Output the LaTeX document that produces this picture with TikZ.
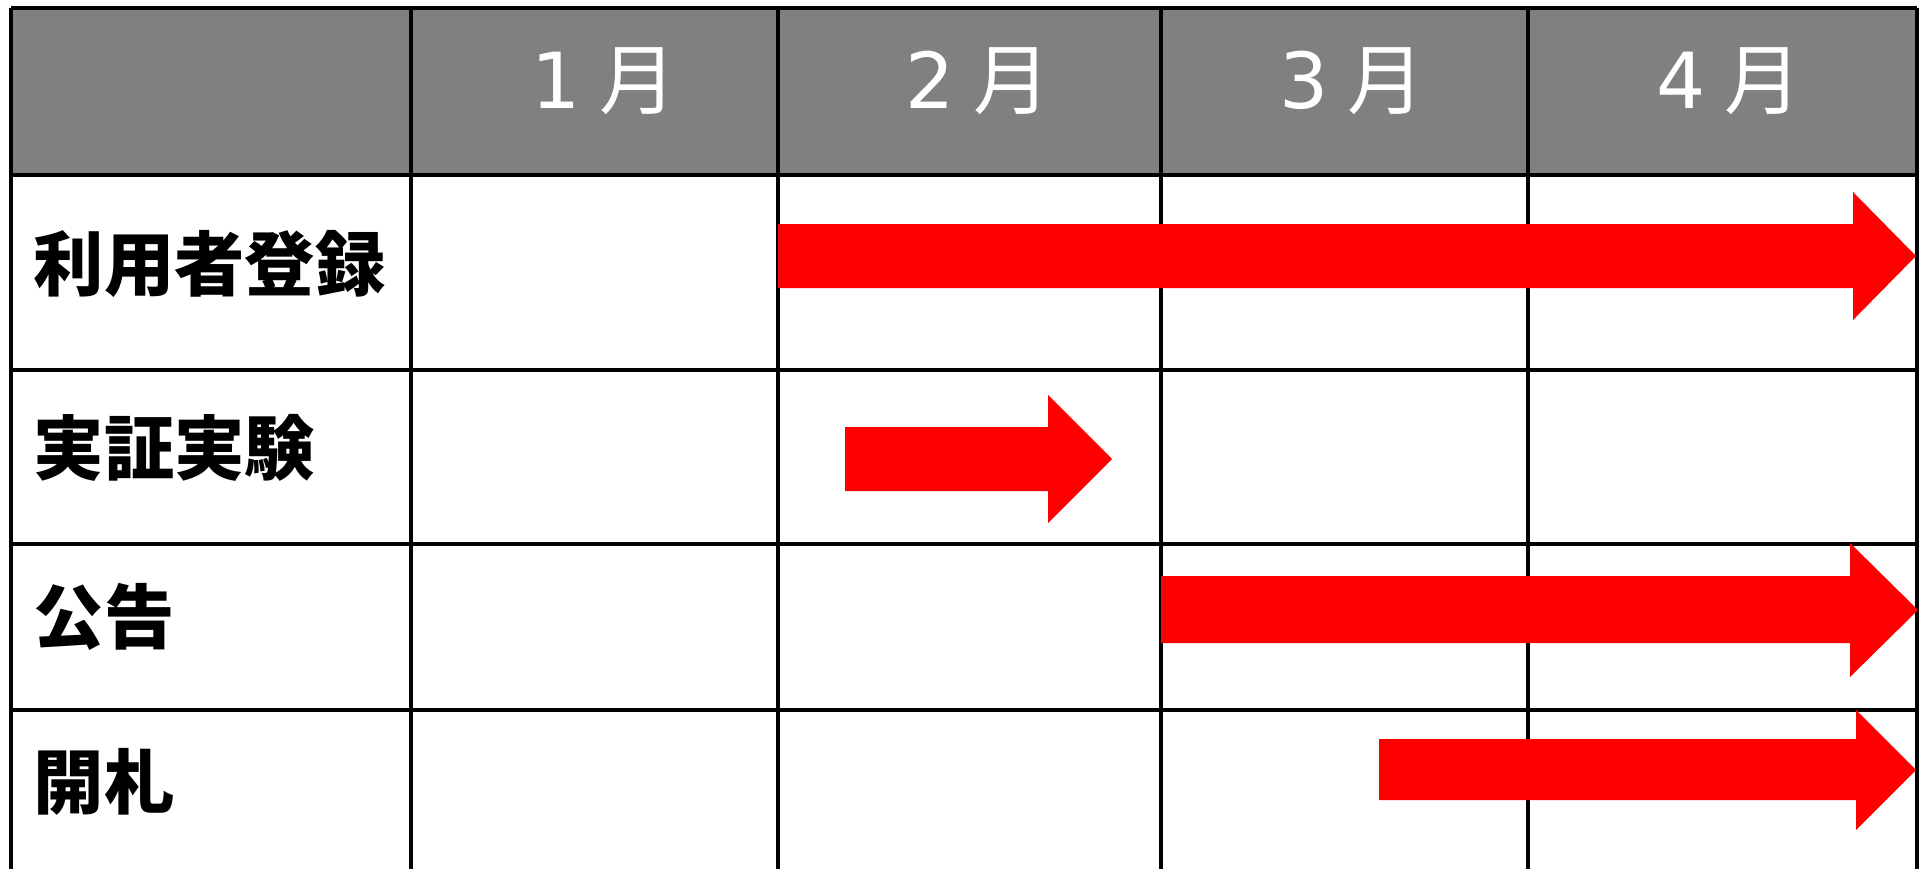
\documentclass[tikz,border=0pt]{standalone}
\usepackage{fontspec}
\newfontfamily\jpfont{Noto Sans CJK JP}
\newfontfamily\zifferfont{DejaVu Sans}

\begin{document}
\begin{tikzpicture}[x=0.01cm, y=-0.01cm,
    gitter/.style={line width=0.9pt, black},
    balken/.style={fill=red},
    kopf/.style={text=white, inner sep=0pt, font=\jpfont\fontsize{22pt}{22pt}\selectfont},
    zeile/.style={anchor=west, inner sep=0pt, font=\jpfont\bfseries\fontsize{20pt}{20pt}\selectfont}]
    \useasboundingbox (0,0) rectangle (1925,869);
    % Kopfzeile:
    \fill[gray] (11,8) rectangle (1917,175); % grauer Kopf
    % waagrechte Linien:
    \draw[gitter] (11,8) -- (1917,8); % oben
    \draw[gitter] (11,175) -- (1917,175); % unter Kopf
    \draw[gitter] (11,370) -- (1917,370);
    \draw[gitter] (11,544) -- (1917,544);
    \draw[gitter] (11,710) -- (1917,710);
    % senkrechte Linien:
    \draw[gitter] (11,8) -- (11,869);
    \draw[gitter] (411,8) -- (411,869);
    \draw[gitter] (778,8) -- (778,869);
    \draw[gitter] (1161,8) -- (1161,869);
    \draw[gitter] (1528,8) -- (1528,869);
    \draw[gitter] (1917,8) -- (1917,869);
    % Monate:
    \node[kopf] (jan) at (604,81) {{\zifferfont 1}\hspace{0.25em}月};
    \node[kopf] (feb) at (978,81) {{\zifferfont 2}\hspace{0.25em}月};
    \node[kopf] (mar) at (1352,81) {{\zifferfont 3}\hspace{0.25em}月};
    \node[kopf] (apr) at (1729,81) {{\zifferfont 4}\hspace{0.25em}月};
    % Zeilen:
    \node[zeile] (riyou) at (33,264) {利用者登録};
    \node[zeile] (jikken) at (33,448) {実証実験};
    \node[zeile] (koukoku) at (33,617) {公告};
    \node[zeile] (kaisatsu) at (33,782) {開札};
    % Balken:
    \fill[balken] (778,224) -- (1853,224) -- (1853,192) -- (1916,256) -- (1853,320) -- (1853,288) -- (778,288) -- cycle; % Registrierung
    \fill[balken] (845,427) -- (1048,427) -- (1048,395) -- (1112,459) -- (1048,523) -- (1048,491) -- (845,491) -- cycle; % Versuch
    \fill[balken] (1161,576) -- (1850,576) -- (1850,543) -- (1918,610) -- (1850,677) -- (1850,643) -- (1161,643) -- cycle; % Bekanntgabe
    \fill[balken] (1379,739) -- (1856,739) -- (1856,710) -- (1916,770) -- (1856,830) -- (1856,800) -- (1379,800) -- cycle; % Eroeffnung
\end{tikzpicture}
\end{document}
